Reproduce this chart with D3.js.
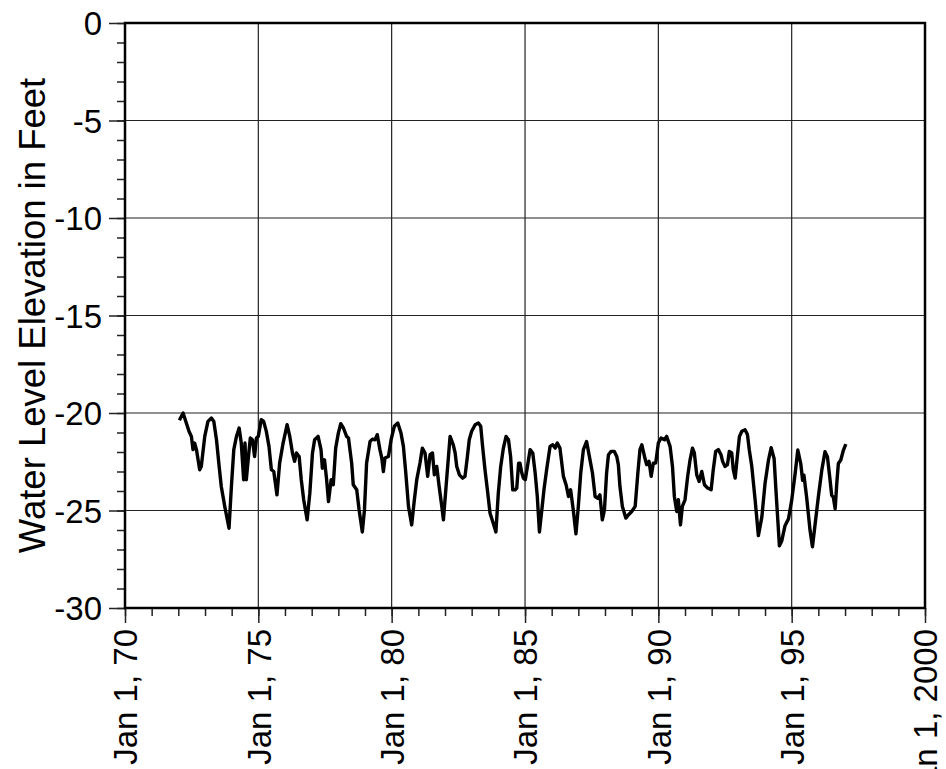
<!DOCTYPE html>
<html>
<head>
<meta charset="utf-8">
<script src="https://cdn.jsdelivr.net/npm/d3@7"></script>
<style>
  html, body { margin: 0; padding: 0; background: #fff; overflow: hidden; }
  svg { display: block; }
  text { font-family: "Liberation Sans", Arial, Helvetica, sans-serif; fill: #000; }
</style>
</head>
<body>
<svg></svg>
<script>
///////////////////////////////////////////
// Data (decimal year, water level in feet)
var obsYears = [
  1972.04, 1972.18, 1972.30, 1972.40, 1972.49, 1972.55, 1972.61, 1972.68, 1972.80, 1972.86, 1972.99,
  1973.11, 1973.24, 1973.33, 1973.43, 1973.53, 1973.61, 1973.74, 1973.90, 1973.99,
  1974.08, 1974.18, 1974.28, 1974.36, 1974.45, 1974.50, 1974.55, 1974.63, 1974.70, 1974.78, 1974.86, 1974.93,
  1975.00, 1975.11, 1975.20, 1975.30, 1975.40, 1975.49, 1975.58, 1975.70, 1975.80, 1975.93,
  1976.08, 1976.18, 1976.28, 1976.36, 1976.43, 1976.53, 1976.61, 1976.70, 1976.83, 1976.93,
  1977.03, 1977.11, 1977.24, 1977.35, 1977.40, 1977.48, 1977.56, 1977.63, 1977.73, 1977.81, 1977.90,
  1978.00, 1978.09, 1978.19, 1978.31, 1978.38, 1978.50, 1978.56, 1978.69, 1978.78, 1978.90, 1978.98,
  1979.06, 1979.19, 1979.28, 1979.38, 1979.46, 1979.56, 1979.63, 1979.69, 1979.75, 1979.88, 1979.98,
  1980.10, 1980.23, 1980.35, 1980.44, 1980.53, 1980.63, 1980.75, 1980.85, 1980.94,
  1981.06, 1981.15, 1981.25, 1981.35, 1981.44, 1981.53, 1981.60, 1981.69, 1981.78, 1981.88, 1981.94,
  1982.06, 1982.19, 1982.31, 1982.38, 1982.44, 1982.54, 1982.66, 1982.75, 1982.84, 1982.91,
  1983.00, 1983.13, 1983.25, 1983.34, 1983.41, 1983.50, 1983.59, 1983.69, 1983.81, 1983.91,
  1984.00, 1984.09, 1984.19, 1984.29, 1984.38, 1984.46, 1984.54, 1984.63, 1984.69, 1984.76, 1984.81, 1984.88, 1984.94,
  1985.01, 1985.09, 1985.19, 1985.29, 1985.38, 1985.46, 1985.54, 1985.63, 1985.71, 1985.81, 1985.94,
  1986.04, 1986.13, 1986.21, 1986.31, 1986.44, 1986.54, 1986.63, 1986.71, 1986.81, 1986.91,
  1987.00, 1987.09, 1987.19, 1987.31, 1987.41, 1987.53, 1987.63, 1987.73, 1987.81, 1987.90, 1987.98,
  1988.06, 1988.13, 1988.23, 1988.35, 1988.44, 1988.50, 1988.56, 1988.65, 1988.78, 1988.88,
  1989.00, 1989.13, 1989.23, 1989.31, 1989.38, 1989.48, 1989.56, 1989.65, 1989.73, 1989.81, 1989.90,
  1990.00, 1990.10, 1990.23, 1990.31, 1990.44, 1990.53, 1990.60, 1990.69, 1990.75, 1990.83, 1990.90,
  1991.00, 1991.10, 1991.19, 1991.28, 1991.35, 1991.44, 1991.53, 1991.63, 1991.73, 1991.85, 1991.98,
  1992.06, 1992.15, 1992.25, 1992.35, 1992.41, 1992.50, 1992.59, 1992.66, 1992.75, 1992.81, 1992.88, 1992.96,
  1993.04, 1993.13, 1993.25, 1993.34, 1993.41, 1993.50, 1993.63, 1993.75, 1993.88,
  1994.00, 1994.13, 1994.23, 1994.34, 1994.41, 1994.54, 1994.63, 1994.75, 1994.88,
  1995.00, 1995.13, 1995.23, 1995.34, 1995.41, 1995.46, 1995.56, 1995.69, 1995.78, 1995.88,
  1996.00, 1996.13, 1996.25, 1996.34, 1996.44, 1996.50, 1996.56, 1996.63, 1996.69, 1996.75, 1996.84, 1996.94,
  1997.03
];
var obsLevels = [
  -20.37, -20.00, -20.51, -20.94, -21.20, -21.88, -21.54, -21.88, -22.91, -22.74, -21.20,
  -20.43, -20.26, -20.43, -21.37, -22.74, -23.77, -24.79, -25.91, -23.77,
  -21.88, -21.20, -20.77, -21.54, -23.42, -21.54, -23.42, -22.23, -21.28, -21.37, -22.23, -21.28,
  -21.20, -20.34, -20.43, -20.94, -21.71, -22.91, -23.00, -24.20, -22.57, -21.54,
  -20.60, -21.20, -22.05, -22.48, -22.05, -22.23, -23.42, -24.45, -25.48, -24.11,
  -22.05, -21.37, -21.20, -21.88, -22.83, -22.40, -23.42, -24.54, -23.42, -23.68, -21.80,
  -21.03, -20.55, -20.77, -21.20, -21.28, -22.57, -23.68, -23.94, -24.97, -26.10, -24.97,
  -22.57, -21.46, -21.34, -21.37, -21.11, -21.88, -22.31, -23.00, -22.31, -22.23, -21.37,
  -20.68, -20.51, -21.03, -21.71, -23.08, -24.79, -25.74, -24.45, -23.42,
  -22.57, -21.80, -22.05, -23.25, -22.14, -22.05, -23.17, -22.74, -23.77, -24.79, -25.48,
  -23.42, -21.20, -21.63, -22.05, -22.74, -23.17, -23.34, -23.25, -22.23, -21.37,
  -20.94, -20.60, -20.51, -20.68, -21.71, -22.91, -23.94, -25.14, -25.65, -26.10,
  -24.11, -22.74, -21.80, -21.20, -21.37, -22.23, -23.94, -23.94, -23.85, -22.57, -22.57, -23.08, -23.34,
  -23.42, -22.74, -21.88, -22.05, -23.08, -24.28, -26.10, -24.97, -23.94, -22.91, -21.71,
  -21.63, -21.80, -21.54, -21.80, -23.25, -23.68, -24.28, -23.94, -24.97, -26.20,
  -24.79, -23.08, -21.88, -21.46, -22.20, -23.08, -24.28, -24.37, -24.20, -25.48, -24.97,
  -23.08, -22.14, -21.97, -21.97, -22.23, -22.65, -23.77, -24.79, -25.39, -25.22,
  -25.05, -24.79, -23.08, -21.88, -21.63, -22.23, -22.65, -22.48, -23.25, -22.57, -22.57,
  -21.54, -21.28, -21.37, -21.20, -21.71, -22.74, -24.28, -25.05, -24.45, -25.74, -24.79,
  -24.45, -23.25, -22.40, -21.80, -22.05, -23.17, -23.51, -23.00, -23.68, -23.85, -23.94,
  -22.91, -21.97, -21.88, -22.14, -22.48, -22.74, -22.65, -21.97, -22.05, -22.91, -23.34, -22.23,
  -21.20, -20.94, -20.86, -21.10, -21.90, -22.70, -24.48, -26.29, -25.34,
  -23.62, -22.41, -21.78, -22.33, -23.97, -26.81, -26.55, -25.78, -25.43,
  -24.48, -23.10, -21.90, -22.59, -23.45, -23.19, -24.31, -26.03, -26.86, -25.69,
  -24.31, -22.93, -21.98, -22.24, -23.45, -24.22, -24.31, -24.91, -23.62, -22.59, -22.41, -21.90,
  -21.59
];

// Axis ticks
var xMajorYears = [1970, 1975, 1980, 1985, 1990, 1995, 2000];
var xTickLabels = ["Jan 1, 70", "Jan 1, 75", "Jan 1, 80", "Jan 1, 85", "Jan 1, 90", "Jan 1, 95", "Jan 1, 2000"];
var yMajorTicks = [0, -5, -10, -15, -20, -25, -30];
var yTickLabels = ["0", "-5", "-10", "-15", "-20", "-25", "-30"];
var yTitle = "Water Level Elevation in Feet";

///////////////////////////////////////////
// Layout Setting
var svgWidth = 946,
    svgHeight = 769;
var margin = {top: 23, right: 21, bottom: 161, left: 125},
    width = svgWidth - margin.left - margin.right,
    height = svgHeight - margin.top - margin.bottom;
var fontSize = 33,
    titleSize = 36.5;

// decimal year -> Date
function toDate(y) {
  var yr = Math.floor(y);
  var start = new Date(yr, 0, 1), end = new Date(yr + 1, 0, 1);
  return new Date(start.getTime() + (y - yr) * (end - start));
}

var svg = d3.select("svg").attr("width", svgWidth).attr("height", svgHeight);
var g = svg.append("g").attr("transform", "translate(" + [margin.left, margin.top] + ")");

var x = d3.scaleTime().domain([new Date(1970, 0, 1), new Date(2000, 0, 1)]).range([0, width]);
var y = d3.scaleLinear().domain([-30, 0]).range([height, 0]);

///////////////////////////////////////////
// Grid lines
g.append("g").selectAll("line")
  .data(xMajorYears.slice(1, -1))
  .enter().append("line")
  .attr("x1", function(d){ return x(toDate(d)); })
  .attr("x2", function(d){ return x(toDate(d)); })
  .attr("y1", 0).attr("y2", height)
  .attr("stroke", "#222").attr("stroke-width", 1.2);

g.append("g").selectAll("line")
  .data(yMajorTicks.slice(1, -1))
  .enter().append("line")
  .attr("y1", function(d){ return y(d); })
  .attr("y2", function(d){ return y(d); })
  .attr("x1", 0).attr("x2", width)
  .attr("stroke", "#222").attr("stroke-width", 1.2);

///////////////////////////////////////////
// Minor ticks
var minorYears = d3.range(1970, 2001).map(toDate);
g.append("g")
  .attr("transform", "translate(0," + height + ")")
  .call(d3.axisBottom(x).tickValues(minorYears).tickSize(8).tickFormat(""))
  .call(function(a){ a.select(".domain").remove(); a.selectAll("line").attr("stroke", "#222").attr("stroke-width", 1.5); });

g.append("g")
  .call(d3.axisLeft(y).tickValues(d3.range(-30, 1)).tickSize(8).tickFormat(""))
  .call(function(a){ a.select(".domain").remove(); a.selectAll("line").attr("stroke", "#222").attr("stroke-width", 1.5); });

///////////////////////////////////////////
// Major axes
var xAxis = g.append("g")
  .attr("transform", "translate(0," + height + ")")
  .call(d3.axisBottom(x).tickValues(xMajorYears.map(toDate)).tickSize(15)
        .tickFormat(function(d, i){ return xTickLabels[i]; }));
xAxis.select(".domain").remove();
xAxis.selectAll("line").attr("stroke", "#222").attr("stroke-width", 1.5);
xAxis.selectAll("text")
  .attr("transform", "rotate(-90)")
  .attr("x", -21).attr("y", 0).attr("dy", "0.36em")
  .style("text-anchor", "end")
  .style("font-size", fontSize + "px");

var yAxis = g.append("g")
  .call(d3.axisLeft(y).tickValues(yMajorTicks).tickSize(16).tickPadding(7)
        .tickFormat(function(d, i){ return yTickLabels[i]; }));
yAxis.select(".domain").remove();
yAxis.selectAll("line").attr("stroke", "#222").attr("stroke-width", 1.5);
yAxis.selectAll("text").attr("dy", "0.36em").style("font-size", fontSize + "px");

///////////////////////////////////////////
// Frame
g.append("rect")
  .attr("x", 0).attr("y", 0).attr("width", width).attr("height", height)
  .attr("fill", "none").attr("stroke", "#000").attr("stroke-width", 2.5);

///////////////////////////////////////////
// Water level line
var line = d3.line()
  .x(function(d){ return x(toDate(d[0])); })
  .y(function(d){ return y(d[1]); });

g.append("path")
  .datum(d3.zip(obsYears, obsLevels))
  .attr("d", line)
  .attr("fill", "none")
  .attr("stroke", "#000")
  .attr("stroke-width", 3.4)
  .attr("stroke-linejoin", "round");

///////////////////////////////////////////
// Y title
svg.append("text")
  .attr("transform", "translate(45," + (margin.top + height / 2) + ") rotate(-90)")
  .style("text-anchor", "middle")
  .style("font-size", titleSize + "px")
  .text(yTitle);
</script>
</body>
</html>
